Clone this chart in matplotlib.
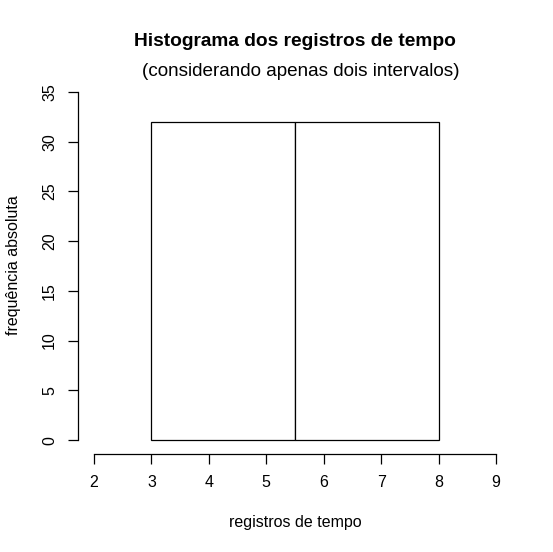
import numpy as np
import matplotlib
matplotlib.use("Agg")
import matplotlib.pyplot as plt

# data
breaks = [3.0, 5.5, 8.0]
counts = [32, 32]
xticks = [2, 3, 4, 5, 6, 7, 8, 9]
yticks = [0, 5, 10, 15, 20, 25, 30, 35]
title = "Histograma dos registros de tempo"
subtitle = "(considerando apenas dois intervalos)"
xlabel = "registros de tempo"
ylabel = "frequência absoluta"

plt.rcParams['font.family'] = ['Liberation Sans', 'DejaVu Sans']
W, H = 553, 552
fig = plt.figure(figsize=(W / 100, H / 100), dpi=100)
ax = fig.add_axes([78 / W, (H - 454) / H, (512 - 78) / W, (454 - 78) / H])

edges = np.array(breaks)
ax.bar(edges[:-1], counts, width=np.diff(edges), align='edge',
       facecolor='white', edgecolor='black', linewidth=0.9)

ax.set_xlim(1.72, 9.28)
ax.set_ylim(-1.4, 36.4)
for s in ['top', 'right']:
    ax.spines[s].set_visible(False)
ax.spines['left'].set_bounds(0, 35)
ax.spines['bottom'].set_bounds(2, 9)
for s in ['left', 'bottom']:
    ax.spines[s].set_linewidth(0.9)
ax.set_xticks(xticks)
ax.set_yticks(yticks)
ax.set_xticklabels([str(v) for v in xticks])
ax.set_yticklabels([str(v) for v in yticks], rotation=90, va='center')
ax.tick_params(axis='both', direction='out', length=7, width=0.9,
               labelsize=11.5, pad=8)

fs = 11.5
fig.text(294.7 / W, 1 - 42 / H, title, ha='center', va='center',
         fontsize=13.8, fontweight='bold')
fig.text(301 / W, 1 - 72 / H, subtitle, ha='center', va='center', fontsize=13.6)
fig.text(295 / W, 1 - 522 / H, xlabel, ha='center', va='center', fontsize=fs)
fig.text(14 / W, 1 - 265 / H, ylabel, ha='center', va='center', fontsize=fs,
         rotation=90)

fig.savefig("out.png", dpi=100)
